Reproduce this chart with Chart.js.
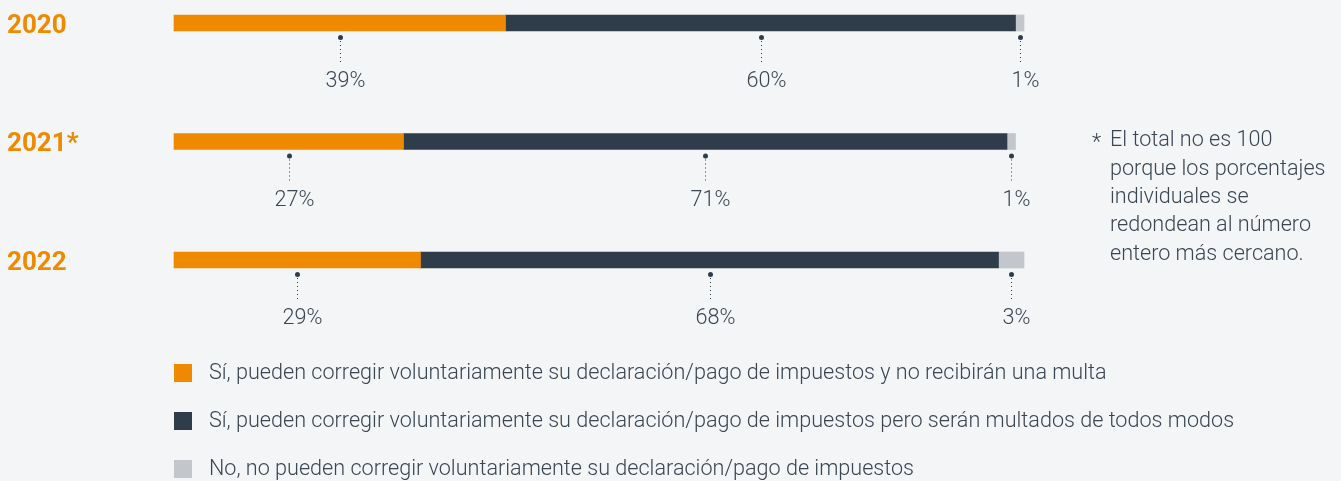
<!DOCTYPE html>
<html>
<head>
<meta charset="utf-8">
<script src="https://cdn.jsdelivr.net/npm/chart.js@4.4.0/dist/chart.umd.min.js"></script>
<style>
  html, body { margin: 0; padding: 0; background: #f4f5f7; }
  #wrap { position: relative; width: 1341px; height: 481px; }
</style>
</head>
<body>
<div id="wrap"><canvas id="chart"></canvas></div>
<script>
// Données
const years = ['2020', '2021*', '2022'];
const serieMultaNo = [39, 27, 29];
const serieMultaSi = [60, 71, 68];
const serieNo = [1, 1, 3];
const seriesLabels = [
    'Sí, pueden corregir voluntariamente su declaración/pago de impuestos y no recibirán una multa',
    'Sí, pueden corregir voluntariamente su declaración/pago de impuestos pero serán multados de todos modos',
    'No, no pueden corregir voluntariamente su declaración/pago de impuestos'
];
const footnote = [
    'El total no es 100',
    'porque los porcentajes',
    'individuales se',
    'redondean al número',
    'entero más cercano.'
];

const colors = ['#ef8a00', '#2f3d4a', '#c3c7cb'];
const textColor = '#3a4652';
const fontFamily = 'Roboto, "Noto Sans", sans-serif';
const textFont = '300 21.6px ' + fontFamily;

// Étiquettes, années, légende et note
const annotations = {
    id: 'annotations',
    afterDatasetsDraw(chart) {
        const ctx = chart.ctx;
        const yScale = chart.scales.y;
        ctx.save();

        // Années à gauche
        ctx.font = 'bold 26px ' + fontFamily;
        ctx.fillStyle = colors[0];
        ctx.textAlign = 'left';
        ctx.textBaseline = 'middle';
        years.forEach(function(y, i) {
            ctx.fillText(y, 7, yScale.getPixelForValue(i) + 3);
        });

        // Pourcentages sous chaque segment
        chart.data.datasets.forEach(function(ds, d) {
            const meta = chart.getDatasetMeta(d);
            meta.data.forEach(function(bar, i) {
                const x = Math.round((bar.x + bar.base) / 2) + 0.5;
                const bottom = bar.y + bar.height / 2;
                ctx.fillStyle = colors[1];
                ctx.beginPath();
                ctx.arc(x, bottom + 6.5, 2.5, 0, Math.PI * 2);
                ctx.fill();
                ctx.strokeStyle = colors[1];
                ctx.lineWidth = 1;
                ctx.setLineDash([1, 3]);
                ctx.beginPath();
                ctx.moveTo(x, bottom + 10);
                ctx.lineTo(x, bottom + 34);
                ctx.stroke();
                ctx.setLineDash([]);
                ctx.fillStyle = textColor;
                ctx.font = textFont;
                ctx.textAlign = 'center';
                ctx.fillText(ds.data[i] + '%', x + 5, bottom + 51);
            });
        });

        // Note de bas de page
        ctx.font = textFont;
        ctx.textAlign = 'left';
        ctx.fillStyle = textColor;
        ctx.fillText('*', 1092, 144);
        footnote.forEach(function(line, i) {
            ctx.fillText(line, 1110, 141 + i * 28.3);
        });

        // Légende
        seriesLabels.forEach(function(lbl, i) {
            const cy = 373 + i * 48;
            ctx.fillStyle = colors[i];
            ctx.fillRect(174, cy - 9, 18, 18);
            ctx.fillStyle = textColor;
            ctx.fillText(lbl, 209, cy + 1);
        });

        ctx.restore();
    }
};

const ctx = document.getElementById('chart').getContext('2d');
const chart = new Chart(ctx, {
    type: 'bar',
    data: {
        labels: years,
        datasets: [
            { label: seriesLabels[0], data: serieMultaNo, backgroundColor: colors[0] },
            { label: seriesLabels[1], data: serieMultaSi, backgroundColor: colors[1] },
            { label: seriesLabels[2], data: serieNo, backgroundColor: colors[2] }
        ]
    },
    options: {
        indexAxis: 'y',
        responsive: true,
        maintainAspectRatio: false,
        animation: false,
        layout: {
            padding: { left: 174, right: 317, top: 23, bottom: 221 }
        },
        datasets: {
            bar: { barThickness: 16, borderWidth: 0, clip: false }
        },
        scales: {
            x: { stacked: true, min: 0, max: 100, display: false },
            y: { stacked: true, display: false, offset: false }
        },
        plugins: {
            legend: { display: false },
            tooltip: { enabled: false }
        }
    },
    plugins: [annotations]
});
</script>
</body>
</html>
